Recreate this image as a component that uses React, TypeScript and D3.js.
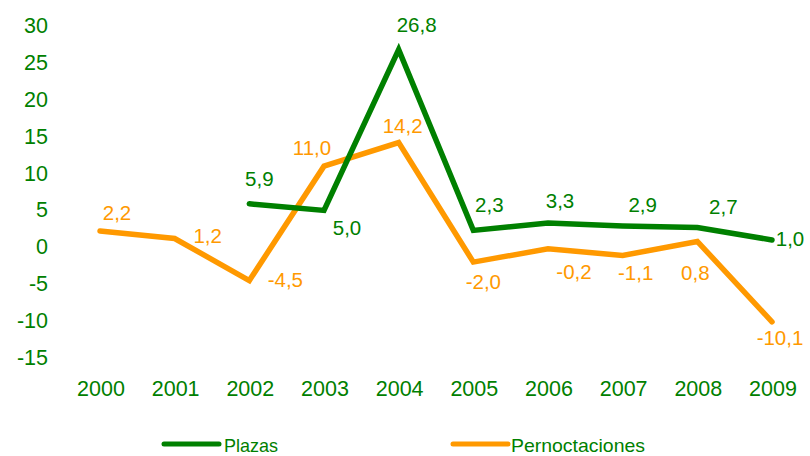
import React from "react";
import * as d3 from "d3";

const years = ["2000", "2001", "2002", "2003", "2004", "2005", "2006", "2007", "2008", "2009"];
const plazas: (number | null)[] = [null, null, 5.9, 5.0, 26.8, 2.3, 3.3, 2.9, 2.7, 1.0];
const pernoctaciones: (number | null)[] = [2.2, 1.2, -4.5, 11.0, 14.2, -2.0, -0.2, -1.1, 0.8, -10.1];
const yTicks = [30, 25, 20, 15, 10, 5, 0, -5, -10, -15];

// label nudges [dx, dy] from the point (text centre / baseline)
const plazasNudge: [number, number][] = [
  [0, 0], [0, 0], [10, -18], [23, 25], [18, -18], [16, -18], [12, -15], [20, -14], [26, -13], [18, 6],
];
const pernocNudge: [number, number][] = [
  [17, -11], [33, 5], [36, 6], [-12, -11], [4, -10], [10, 27], [26, 30], [13, 25], [-2, 39], [8, 23],
];

const width = 810;
const height = 456;
const green = "#008000";
const orange = "#ff9900";
const font = "'Liberation Sans', Arial, sans-serif";

const fmt = (v: number) => v.toFixed(1).replace(".", ",");

const App = () => {
  const x = d3.scalePoint<string>().domain(years).range([100, 772]);
  const y = d3.scaleLinear().domain([-15, 30]).range([358, 26]);

  const line = d3
    .line<number | null>()
    .defined((d) => d !== null)
    .x((_, i) => x(years[i]) as number)
    .y((d) => y(d as number));

  const series = [
    { values: pernoctaciones, color: orange, nudge: pernocNudge },
    { values: plazas, color: green, nudge: plazasNudge },
  ];

  return (
    <svg
      width={width}
      height={height}
      style={{ position: "fixed", left: 0, top: 0, background: "#fff" }}
      fontFamily={font}
    >
      {yTicks.map((t) => (
        <text
          key={t}
          x={48}
          y={y(t)}
          textAnchor="end"
          dominantBaseline="central"
          fontSize={21.5}
          fill={green}
        >
          {t}
        </text>
      ))}
      {years.map((yr) => (
        <text key={yr} x={(x(yr) as number) + 1} y={396} textAnchor="middle" fontSize={21.5} fill={green}>
          {yr}
        </text>
      ))}
      {series.map((s, si) => (
        <path
          key={si}
          d={line(s.values) || ""}
          fill="none"
          stroke={s.color}
          strokeWidth={5.5}
          strokeLinecap="round"
          strokeLinejoin="miter"
        />
      ))}
      {series.map((s, si) =>
        s.values.map((v, i) =>
          v === null ? null : (
            <text
              key={`${si}-${i}`}
              x={(x(years[i]) as number) + s.nudge[i][0]}
              y={y(v) + s.nudge[i][1]}
              textAnchor="middle"
              fontSize={20.5}
              fill={s.color}
            >
              {fmt(v)}
            </text>
          )
        )
      )}
      <line x1={164} x2={219} y1={444} y2={444} stroke={green} strokeWidth={5} strokeLinecap="round" />
      <text x={224} y={452} fontSize={19} fill={green} textLength={54} lengthAdjust="spacingAndGlyphs">
        Plazas
      </text>
      <line x1={453} x2={508} y1={444} y2={444} stroke={orange} strokeWidth={5} strokeLinecap="round" />
      <text x={511} y={452} fontSize={19} fill={green} textLength={134} lengthAdjust="spacingAndGlyphs">
        Pernoctaciones
      </text>
    </svg>
  );
};

export default App;
